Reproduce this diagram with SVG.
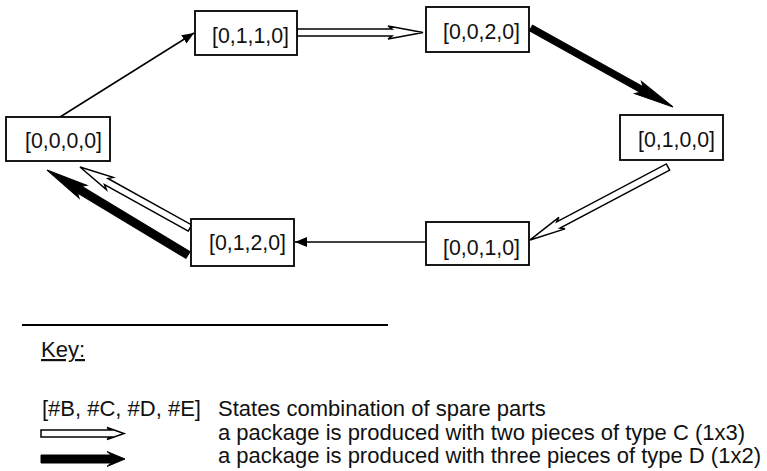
<svg xmlns="http://www.w3.org/2000/svg" width="767" height="471" viewBox="0 0 767 471">
<style>
.box{fill:#fff;stroke:#000;stroke-width:1.8}
.lbl{font-family:"Liberation Sans",Arial,sans-serif;font-size:21.3px;fill:#111}
.leg{font-family:"Liberation Sans",Arial,sans-serif;font-size:22px;fill:#111}
.thin{stroke:#000;stroke-width:1.5;fill:none}
.hollow{fill:#fff;stroke:#000;stroke-width:1.5;stroke-linejoin:miter}
.solid{fill:#000;stroke:#000;stroke-width:1}
</style>
<defs>
<marker id="ah" markerUnits="userSpaceOnUse" markerWidth="12" markerHeight="10" refX="12" refY="5" orient="auto">
<path d="M0,0 L12,5 L0,10 z" fill="#000"/>
</marker>
</defs>
<rect width="767" height="471" fill="#fff"/>
<g id="connectors">
<line class="thin" x1="60" y1="117" x2="194" y2="33" marker-end="url(#ah)"/>
<line class="thin" x1="426" y1="242" x2="295" y2="242" marker-end="url(#ah)"/>
<path class="hollow" transform="translate(297,32.5)" d="M0,-3.5 L95,-3.5 L91,-6.5 L126,0 L91,6.5 L95,3.5 L0,3.5 Z"/>
<path class="solid" transform="translate(531,28) rotate(29.09)" d="M0,-3.2 L126.5,-3.2 L122.5,-7 L162.5,0 L122.5,7 L126.5,3.2 L0,3.2 Z"/>
<path class="hollow" transform="translate(668,167) rotate(152.12)" d="M0,-3.5 L124,-3.5 L120,-6.5 L156,0 L120,6.5 L124,3.5 L0,3.5 Z"/>
<path class="hollow" transform="translate(190,228) rotate(-150.99)" d="M0,-3.5 L95.8,-3.5 L91.8,-7 L125.8,0 L91.8,7 L95.8,3.5 L0,3.5 Z"/>
<path class="solid" transform="translate(188,255) rotate(-148.92)" d="M0,-4 L126.6,-4 L122.6,-7.5 L164.6,0 L122.6,7.5 L126.6,4 L0,4 Z"/>
</g>
<g id="n0110"><rect class="box" x="195" y="11" width="102" height="44"/><text class="lbl" x="212" y="43">[0,1,1,0]</text></g>
<g id="n0000"><rect class="box" x="6" y="117" width="104" height="44"/><text class="lbl" x="25" y="148">[0,0,0,0]</text></g>
<g id="n0020"><rect class="box" x="426" y="7" width="103" height="45"/><text class="lbl" x="443" y="39">[0,0,2,0]</text></g>
<g id="n0100"><rect class="box" x="620" y="115" width="103" height="45"/><text class="lbl" x="638" y="147">[0,1,0,0]</text></g>
<g id="n0120"><rect class="box" x="191" y="219" width="103" height="47"/><text class="lbl" x="209" y="250">[0,1,2,0]</text></g>
<g id="n0010"><rect class="box" x="426" y="222" width="103" height="43"/><text class="lbl" x="443" y="255">[0,0,1,0]</text></g>
<g id="legend">
<line x1="22" y1="325" x2="388" y2="325" stroke="#000" stroke-width="2"/>
<text class="leg" x="41" y="357" text-decoration="underline">Key:</text>
<text class="leg" x="42" y="416">[#B, #C, #D, #E]</text>
<text class="leg" x="218" y="416">States combination of spare parts</text>
<path class="hollow" transform="translate(41,433.5)" d="M0,-3.5 L70,-3.5 L66,-6 L83,0 L66,6 L70,3.5 L0,3.5 Z"/>
<text class="leg" x="218" y="440">a package is produced with two pieces of type C (1x3)</text>
<path class="solid" transform="translate(41,459)" d="M0,-4 L70,-4 L66,-7.5 L84,0 L66,7.5 L70,4 L0,4 Z"/>
<text class="leg" x="218" y="463">a package is produced with three pieces of type D (1x2)</text>
</g>
</svg>
